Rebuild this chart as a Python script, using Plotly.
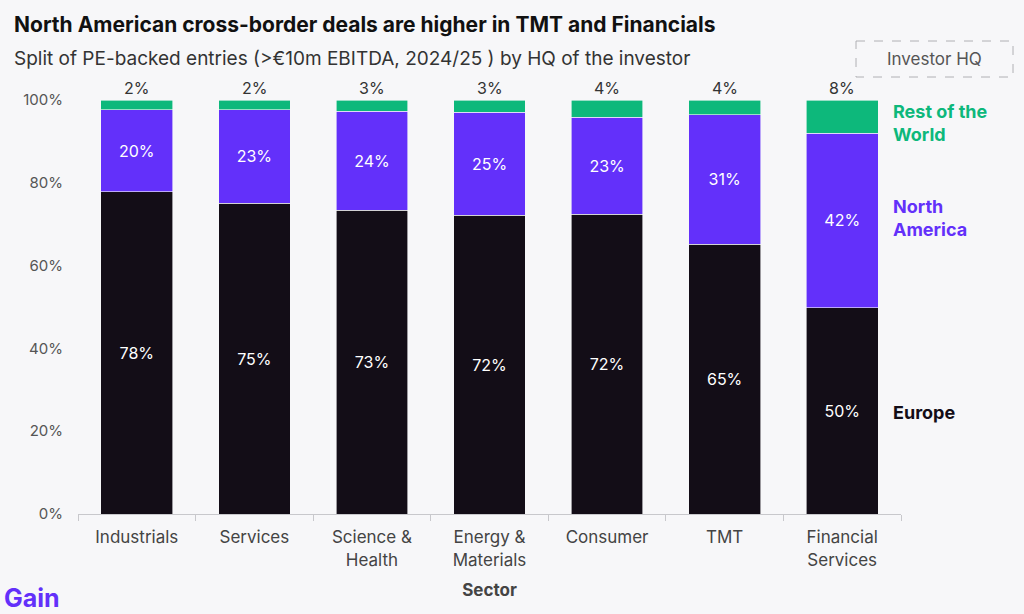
import plotly.graph_objects as go

sectors = ["Industrials", "Services", "Science &<br>Health", "Energy &<br>Materials",
           "Consumer", "TMT", "Financial<br>Services"]
europe = [77.8, 75.1, 73.4, 72.2, 72.4, 65.2, 49.8]
north_america = [19.8, 22.6, 23.9, 24.9, 23.4, 31.2, 42.2]
rest_of_world = [2.4, 2.3, 2.7, 2.9, 4.1, 3.6, 8.0]

y_ticks = [0, 20, 40, 60, 80, 100]
y_tick_labels = ["0%", "20%", "40%", "60%", "80%", "100%"]

BG = "#f7f7f9"
C_EU = "#130d17"
C_NA = "#6330fa"
C_ROW = "#0db87b"
FONT = "Inter"

fig = go.Figure()
fig.add_bar(x=sectors, y=europe, name="Europe", marker=dict(color=C_EU, line=dict(color=BG, width=0.6)),
            texttemplate="%{y:.0f}%", textposition="inside", insidetextanchor="middle",
            textfont=dict(color="white", size=16, family=FONT))
fig.add_bar(x=sectors, y=north_america, name="North America", marker=dict(color=C_NA, line=dict(color=BG, width=0.6)),
            texttemplate="%{y:.0f}%", textposition="inside", insidetextanchor="middle",
            textfont=dict(color="white", size=16, family=FONT))
fig.add_bar(x=sectors, y=rest_of_world, name="Rest of the World", marker=dict(color=C_ROW, line=dict(color=BG, width=0.6)),
            textposition="none")

# Rest of world labels above each bar
for i, (e, n, r) in enumerate(zip(europe, north_america, rest_of_world)):
    fig.add_annotation(x=i, y=min(round(e + n + r, 6), 100), xref="x", yref="y", text=f"{r:.0f}%",
                       showarrow=False, yanchor="bottom", yshift=0,
                       font=dict(family=FONT, size=16, color="#333333"))

fig.update_layout(
    barmode="stack",
    bargap=0.39,
    width=1024, height=614,
    paper_bgcolor=BG, plot_bgcolor=BG,
    margin=dict(l=78, r=123, t=100, b=100),
    showlegend=False,
    font=dict(family=FONT, color="#444444"),
    uniformtext=dict(minsize=8, mode="show"),
)
fig.update_xaxes(
    type="category",
    showline=True, linecolor="#c8c8cc", linewidth=1,
    ticks="outside", tickson="boundaries", ticklen=6, tickcolor="#c8c8cc",
    tickfont=dict(size=17, color="#444444", family=FONT),
    ticklabelstandoff=8,
    title=dict(text="<b>Sector</b>", font=dict(size=17, color="#444444", family=FONT), standoff=15),
    showgrid=False,
)
fig.update_yaxes(
    range=[0, 100], tickvals=y_ticks, ticktext=y_tick_labels,
    showgrid=False, zeroline=False, showline=False,
    tickfont=dict(size=15, color="#555555", family=FONT),
    ticks="", ticklabelstandoff=14,
)

plot_w = 1024 - 78 - 123
plot_h = 614 - 100 - 100


def px(x):
    return (x - 78) / plot_w


def py(y):
    return (514 - y) / plot_h


fig.add_annotation(xref="paper", yref="paper", x=px(12), y=py(24), xanchor="left", yanchor="middle",
                   text="<b>North American cross-border deals are higher in TMT and Financials</b>",
                   showarrow=False, font=dict(family=FONT, size=21, color="#111111"))
fig.add_annotation(xref="paper", yref="paper", x=px(12), y=py(58), xanchor="left", yanchor="middle",
                   text="Split of PE-backed entries (>€10m EBITDA, 2024/25 ) by HQ of the investor",
                   showarrow=False, font=dict(family=FONT, size=19, color="#333333"))
fig.add_annotation(xref="paper", yref="paper", x=px(2), y=py(598), xanchor="left", yanchor="middle",
                   text="<b>Gain</b>", showarrow=False, font=dict(family=FONT, size=25, color=C_NA))

fig.add_annotation(xref="paper", yref="paper", x=px(934), y=py(59),
                   text="Investor HQ", showarrow=False, xanchor="center", yanchor="middle",
                   font=dict(family=FONT, size=17, color="#555555"))
fig.add_shape(type="rect", xref="paper", yref="paper",
              x0=px(856), x1=px(1013), y0=py(41), y1=py(77),
              line=dict(color="#b0b0b4", width=1, dash="dash"))

# series labels on the right, aligned with the last bar's segments
last = len(sectors) - 1
series_labels = [
    ("Rest of the<br>World", C_ROW, europe[last] + north_america[last] + rest_of_world[last] / 2 - 1.5),
    ("North<br>America", C_NA, europe[last] + north_america[last] / 2 + 0.5),
    ("Europe", C_EU, europe[last] / 2 - 0.5),
]
for txt, col, yv in series_labels:
    fig.add_annotation(xref="paper", yref="y", x=px(891), y=yv,
                       text=f"<b>{txt}</b>", showarrow=False, xanchor="left", yanchor="middle",
                       align="left", font=dict(family=FONT, size=18, color=col))

fig.write_html("out.html")
